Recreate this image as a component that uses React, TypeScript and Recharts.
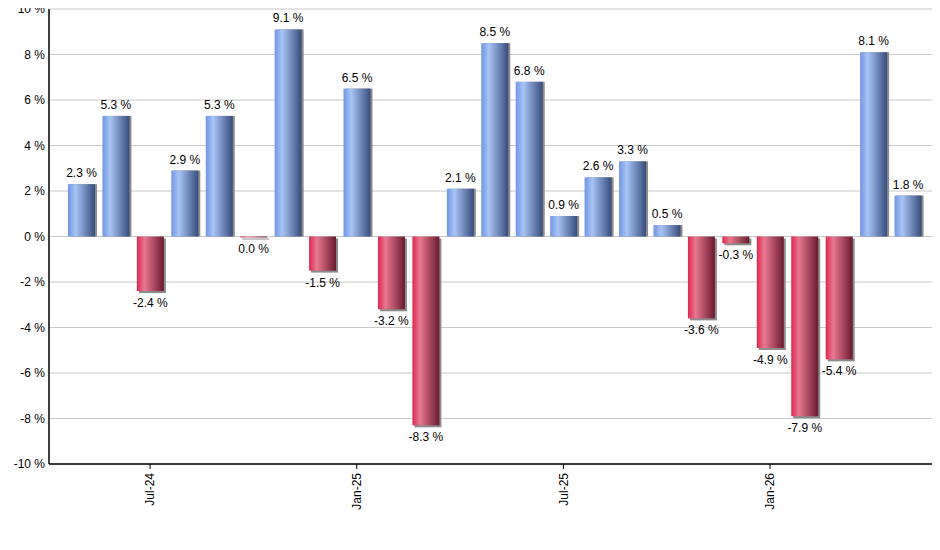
import { Bar, BarChart, CartesianGrid, Cell, LabelList, XAxis, YAxis } from "recharts";

const months = [
  "May-24", "Jun-24", "Jul-24", "Aug-24", "Sep-24", "Oct-24", "Nov-24", "Dec-24",
  "Jan-25", "Feb-25", "Mar-25", "Apr-25", "May-25", "Jun-25", "Jul-25", "Aug-25",
  "Sep-25", "Oct-25", "Nov-25", "Dec-25", "Jan-26", "Feb-26", "Mar-26", "Apr-26", "May-26",
];
const returns = [
  2.3, 5.3, -2.4, 2.9, 5.3, -0.04, 9.1, -1.5, 6.5, -3.2, -8.3, 2.1, 8.5, 6.8, 0.9, 2.6,
  3.3, 0.5, -3.6, -0.3, -4.9, -7.9, -5.4, 8.1, 1.8,
];
const tickLabels = ["Jul-24", "Jan-25", "Jul-25", "Jan-26"];
const yTicks = [-10, -8, -6, -4, -2, 0, 2, 4, 6, 8, 10];

const chartData = months.map((m, i) => ({ month: m, value: returns[i] }));

const FONT = "'Liberation Sans', Arial, sans-serif";

const fmt = (v: number) => {
  const s = v.toFixed(1);
  return s === "-0.0" ? "0.0" : s;
};

// bar with a small grey drop shadow on the right
const ShadowBar = (props: any) => {
  const { x, y, width, height, fill, value } = props;
  const top = Math.min(y, y + height);
  const h = Math.max(Math.abs(height), 1);
  const neg = value < 0;
  return (
    <g>
      <rect x={x + 2} y={top + (neg ? 2 : 0)} width={width} height={h} fill="#8c8c8c" />
      <rect x={x} y={top} width={width} height={h} fill={fill} />
    </g>
  );
};

const BarLabel = (props: any) => {
  const { x, y, width, height, value } = props;
  const top = Math.min(y, y + height);
  const bottom = Math.max(y, y + height);
  const neg = value < 0;
  return (
    <text
      x={x + width / 2}
      y={neg ? bottom + 16 : top - 7}
      textAnchor="middle"
      fontSize={12}
      fontFamily={FONT}
      fill="#000"
    >
      {fmt(value)} %
    </text>
  );
};

const MonthTick = (props: any) => {
  const { x, y, payload } = props;
  if (!tickLabels.includes(payload.value)) return null;
  return (
    <g>
      <line x1={x} y1={y} x2={x} y2={y + 5} stroke="#000" />
      <text
        x={x}
        y={y + 9}
        dy="0.35em"
        transform={`rotate(-90, ${x}, ${y + 9})`}
        textAnchor="end"
        fontSize={12}
        fontFamily={FONT}
        fill="#000"
      >
        {payload.value}
      </text>
    </g>
  );
};

const App = () => {
  return (
    <div style={{ width: 940, height: 550, marginTop: -8, marginLeft: -8 }}>
      <BarChart
        width={940}
        height={550}
        data={chartData}
        margin={{ top: 9, right: 0, left: 0, bottom: 0 }}
        barSize={27}
      >
        <defs>
          <linearGradient id="gradBlue" x1="0" y1="0" x2="1" y2="0">
            <stop offset="0%" stopColor="#6f95e4" />
            <stop offset="28%" stopColor="#a9c4f6" />
            <stop offset="100%" stopColor="#374c7c" />
          </linearGradient>
          <linearGradient id="gradRed" x1="0" y1="0" x2="1" y2="0">
            <stop offset="0%" stopColor="#dc2850" />
            <stop offset="28%" stopColor="#e8788f" />
            <stop offset="100%" stopColor="#6a1a2e" />
          </linearGradient>
        </defs>
        <CartesianGrid vertical={false} stroke="#c8c8c8" />
        <XAxis
          dataKey="month"
          interval={0}
          height={86}
          padding={{ left: 15, right: 15 }}
          tickSize={0}
          tickMargin={0}
          tickLine={false}
          tick={<MonthTick />}
          axisLine={{ stroke: "#000", strokeWidth: 1.5 }}
        />
        <YAxis
          width={49}
          domain={[-10, 10]}
          ticks={yTicks}
          interval={0}
          tickLine={false}
          tickSize={0}
          tickMargin={4}
          tickFormatter={(v: number) => `${v} %`}
          tick={{ fontSize: 12, fontFamily: FONT, fill: "#000" }}
          axisLine={{ stroke: "#000", strokeWidth: 1.5 }}
        />
        <Bar dataKey="value" isAnimationActive={false} shape={<ShadowBar />}>
          {chartData.map((d) => (
            <Cell key={d.month} fill={d.value < 0 ? "url(#gradRed)" : "url(#gradBlue)"} />
          ))}
          <LabelList dataKey="value" content={<BarLabel />} />
        </Bar>
      </BarChart>
    </div>
  );
};

export default App;
